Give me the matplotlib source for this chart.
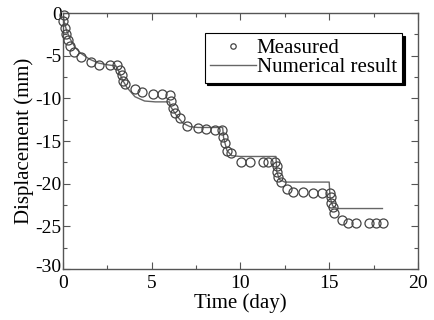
import matplotlib
matplotlib.use("Agg")
import matplotlib.pyplot as plt
from matplotlib.transforms import ScaledTranslation

plt.rcParams['font.family'] = ['Liberation Serif', 'DejaVu Serif']
plt.rcParams['axes.unicode_minus'] = False

# Measured data (time in days, displacement in mm)
meas_t = [0.06, 0.0, 0.11, 0.17, 0.28, 0.39, 0.62, 1.01, 1.58, 2.03, 2.65, 3.04,
          3.21, 3.32, 3.38, 3.49, 4.06, 4.45, 5.07, 5.58, 6.03, 6.1, 6.2, 6.31,
          6.59, 6.99, 7.6, 8.06, 8.56, 8.96, 9.01, 9.13, 9.24, 9.46, 10.03, 10.54,
          11.27, 11.55, 11.94, 12.06, 12.06, 12.11, 12.28, 12.62, 12.96, 13.52,
          14.08, 14.59, 15.04, 15.1, 15.1, 15.21, 15.27, 15.72, 16.06, 16.51,
          17.24, 17.63, 18.03]
meas_d = [-0.2, -0.9, -1.8, -2.5, -3.2, -3.9, -4.5, -5.2, -5.7, -6.1, -6.1, -6.1,
          -6.7, -7.3, -7.9, -8.3, -8.9, -9.3, -9.5, -9.5, -9.6, -10.3, -11.1, -11.7,
          -12.3, -13.2, -13.5, -13.6, -13.7, -13.7, -14.5, -15.2, -16.1, -16.4, -17.4, -17.5,
          -17.5, -17.5, -17.5, -17.9, -18.6, -19.2, -19.8, -20.6, -21.0, -21.0,
          -21.1, -21.1, -21.1, -21.6, -22.2, -22.7, -23.4, -24.3, -24.6, -24.6,
          -24.6, -24.6, -24.6]

# Numerical result
num_t = [0.0, 0.05, 0.2, 0.4, 0.68, 1.0, 1.5, 2.0, 2.5, 3.0,
         3.1, 3.35, 3.6, 4.06, 4.6, 5.2, 6.0,
         6.05, 6.4, 6.76, 7.15, 7.6, 9.0,
         9.05, 9.24, 9.5, 10.0, 12.0,
         12.05, 12.2, 12.5, 13.0, 15.0,
         15.05, 15.2, 15.45, 16.0, 18.0]
num_d = [0.0, -0.8, -2.0, -3.0, -4.0, -4.7, -5.4, -5.85, -6.05, -6.2,
         -6.6, -7.8, -8.7, -9.8, -10.3, -10.4, -10.4,
         -10.9, -12.0, -12.9, -13.3, -13.4, -13.4,
         -14.6, -16.1, -16.7, -16.8, -16.8,
         -18.6, -19.5, -19.8, -19.8, -19.8,
         -21.6, -22.6, -22.9, -22.9, -22.9]

x_ticks = [0, 5, 10, 15, 20]
y_ticks = [0, -5, -10, -15, -20, -25, -30]

fig = plt.figure(figsize=(4.34, 3.20), dpi=100)
ax = fig.add_axes([0.145, 0.159, 0.818, 0.800])

spine_col = '#555555'
ax.plot(meas_t, meas_d, linestyle='none', marker='o', markersize=6.5,
        markerfacecolor='none', markeredgecolor='#444444', markeredgewidth=0.9,
        label='Measured', zorder=3, clip_on=False)
ax.plot(num_t, num_d, color='#666666', linewidth=1.0, label='Numerical result', zorder=2)

ax.set_xlim(0, 20)
ax.set_ylim(-30, 0)
ax.set_xticks(x_ticks)
ax.set_yticks(y_ticks)
ax.set_xticks([2.5, 7.5, 12.5, 17.5], minor=True)
ax.set_yticks([-2.5, -7.5, -12.5, -17.5, -22.5, -27.5], minor=True)
ax.tick_params(axis='both', which='both', direction='in', top=True, right=True,
               color=spine_col, labelsize=14)
ax.tick_params(axis='x', which='both', pad=4.5)
ax.tick_params(axis='y', which='both', pad=1)
ax.tick_params(which='major', length=5, width=0.8)
ax.tick_params(which='minor', length=3, width=0.8)
for s in ax.spines.values():
    s.set_color(spine_col)
    s.set_linewidth(1.0)

ax.set_xlabel('Time (day)', fontsize=15, labelpad=0.5)
ax.set_ylabel('Displacement (mm)', fontsize=15, labelpad=1)

leg = ax.legend(loc='upper right', bbox_to_anchor=(0.955, 0.922), borderaxespad=0,
                fontsize=15, frameon=True, fancybox=False,
                shadow={'color': 'black', 'alpha': 1.0},
                markerscale=0.6, handlelength=2.2, handletextpad=0.05,
                borderpad=0.25, labelspacing=0.0)
leg.get_frame().set_edgecolor('black')
leg.get_frame().set_linewidth(0.8)

# nudge the bottom y tick label ("-30") up slightly so it does not collide with the x "0"
fig.canvas.draw()
for tk in ax.yaxis.get_major_ticks():
    if abs(tk.get_loc() - (-30)) < 1e-9:
        tk.label1.set_transform(tk.label1.get_transform() +
                                ScaledTranslation(0, 2.5 / 72, fig.dpi_scale_trans))

fig.savefig('out.png', dpi=100)
